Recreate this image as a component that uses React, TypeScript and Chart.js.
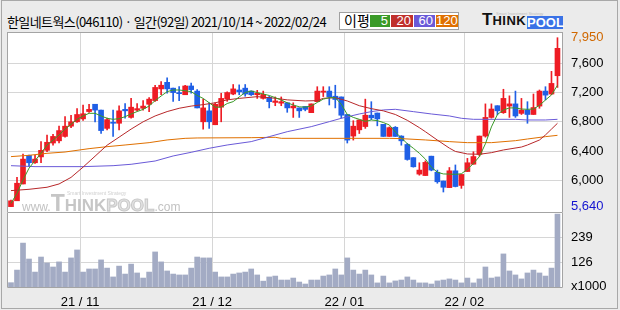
import React, { useEffect, useRef } from 'react';
import { Chart, registerables } from 'chart.js';

Chart.register(...registerables);

const titleText = '한일네트웍스(046110) · 일간(92일) 2021/10/14 ~ 2022/02/24';
const legendItems = ['5', '20', '60', '120'];

// month start indices (trading-day index of first session of month)
const monthStarts = [12, 34, 56, 76];
const monthLabels = ['21 / 11', '21 / 12', '22 / 01', '22 / 02'];

const opens = [5640,5720,5950,6340,6240,6320,6410,6510,6540,6600, 6740,6800,6840,6940,7040,6960,6710,6790,6780,6970, 6860,6960,6985,7040,7090,7250,7340,7260,7190,7170, 7290,7220,6800,6950,6760,7000,7110,7180,7235,7260, 7220,7170,7120,7135,7065,7055,7060,6990,6990,7010, 6925,7075,7205,7220,7150,7140,6900,6605,6690,6735, 6890,6920,6765,6600,6725,6605,6490,6310,6085,6065, 6330,6110,5990,5900,6130,5930,6120,6220,6355,6605, 6860,7020,6925,7015,7045,6915,6960,6900,7015,7220, 7180,7430];
const highs = [5730,6040,6360,6345,6340,6530,6620,6630,6740,6870, 6890,6980,7030,7040,7040,6960,6850,6960,7020,7050, 7120,7050,7090,7130,7300,7350,7400,7260,7280,7300, 7330,7240,7110,7060,7060,7190,7210,7310,7305,7310, 7220,7230,7220,7150,7140,7140,7060,7060,6990,7010, 7045,7280,7280,7280,7300,7140,6900,6815,6825,7110, 7075,6920,6765,6730,6735,6610,6505,6310,6240,6265, 6330,6140,5990,6175,6210,6080,6300,6390,6605,7045, 7045,7020,7245,7155,7220,7120,7075,7180,7235,7280, 7490,7950];
const lows = [5640,5720,5950,6190,6230,6240,6390,6480,6510,6590, 6720,6790,6820,6930,6800,6640,6690,6600,6690,6850, 6850,6950,6960,6940,7080,7170,7190,7080,7090,7170, 7190,6990,6700,6710,6760,6800,7080,7170,7170,7150, 7160,7120,7110,6990,7020,7020,6930,6860,6860,6950, 6925,7075,7145,7030,6990,6850,6510,6550,6640,6710, 6830,6745,6600,6600,6600,6480,6275,6180,6070,6065, 6130,5960,5840,5900,5910,5890,6120,6220,6330,6590, 6850,6895,6915,6860,6860,6900,6780,6900,6985,7100, 7170,7270];
const closes = [5720,5960,6290,6240,6290,6410,6520,6600,6680,6740, 6800,6900,6910,6970,6960,6680,6830,6780,6950,6950, 7000,6980,7015,7110,7270,7300,7250,7200,7185,7290, 7240,6990,6990,6800,7040,7120,7200,7250,7210,7180, 7170,7190,7175,7075,7085,7075,6990,7015,6950,6970, 7045,7220,7220,7140,7105,6890,6550,6740,6825,6890, 6855,6840,6600,6720,6600,6540,6285,6185,6140,6245, 6140,5980,5905,6130,5915,6080,6240,6325,6605,6860, 6975,6950,7120,7045,6880,6960,6900,6995,7220,7165, 7325,7805];
const volumes = [34,91,213,141,82,150,123,105,128,82, 146,182,82,96,96,137,100,60,109,73, 118,78,55,82,173,128,87,73,69,69, 100,150,146,146,82,60,60,73,78,82, 96,69,41,60,64,46,46,55,37,28, 46,46,64,69,96,69,146,91,73,91, 69,33,64,33,42,46,60,46,33,33, 28,42,46,51,46,33,55,33,51,105, 55,60,164,87,69,51,78,91,78,64, 100,344];

// moving averages: [index, value]
const ma5: number[][] = [[0,5685],[1,5822],[2,6005],[3,6165],[4,6270],[5,6370],[6,6483],[7,6550],[8,6620],[9,6700],[10,6766],[11,6834],[12,6880],[13,6916],[14,6916],[15,6880],[16,6848],[17,6834],[18,6843],[19,6870],[20,6907],[21,6940],[22,6970],[23,7016],[24,7090],[25,7153],[26,7212],[27,7235],[28,7235],[29,7225],[30,7212],[31,7160],[32,7120],[33,7060],[34,7000],[35,7000],[36,7050],[37,7076],[38,7140],[39,7200],[40,7222],[41,7200],[42,7180],[43,7160],[44,7130],[45,7098],[46,7060],[47,7030],[48,7005],[49,7000],[50,7016],[51,7065],[52,7110],[53,7130],[54,7130],[55,7040],[56,6900],[57,6860],[58,6834],[59,6805],[60,6825],[61,6816],[62,6790],[63,6757],[64,6660],[65,6580],[66,6500],[67,6438],[68,6370],[69,6290],[70,6180],[71,6110],[72,6087],[73,6085],[74,6082],[75,6090],[76,6150],[77,6230],[78,6324],[79,6500],[80,6730],[81,6900],[82,6962],[83,6990],[84,6990],[85,6975],[86,6971],[87,6975],[88,7025],[89,7098],[90,7167],[91,7300]];
const ma20: number[][] = [[0,5859],[3,5877],[6,5905],[8,5950],[10,6040],[12,6180],[14,6330],[16,6480],[18,6590],[20,6700],[22,6800],[24,6880],[26,6940],[28,6985],[30,7015],[32,7035],[34,7060],[36,7100],[38,7120],[41,7144],[44,7122],[46,7100],[49,7085],[51,7090],[52,7121],[54,7130],[56,7085],[58,7020],[60,6980],[62,6950],[64,6900],[66,6820],[68,6720],[69,6665],[71,6550],[73,6440],[74,6395],[76,6360],[78,6356],[80,6378],[82,6415],[85,6455],[86,6483],[88,6551],[89,6620],[90,6700],[91,6780]];
const ma60: number[][] = [[0,6200],[4,6187],[12,6187],[17,6200],[20,6219],[24,6264],[27,6333],[30,6383],[33,6438],[36,6483],[40,6529],[43,6597],[46,6665],[50,6734],[53,6802],[55,6848],[58,6907],[60,6939],[62,6962],[64,6971],[67,6939],[70,6907],[73,6880],[75,6848],[77,6834],[84,6834],[86,6825],[89,6825],[91,6834]];
const ma120: number[][] = [[0,6324],[3,6342],[6,6369],[9,6387],[13,6433],[16,6460],[19,6483],[23,6515],[26,6552],[29,6574],[31,6579],[40,6583],[44,6588],[45,6574],[63,6574],[65,6570],[69,6552],[73,6529],[76,6515],[80,6515],[84,6542],[86,6565],[89,6597],[91,6615]];

const priceTicks = [6000, 6400, 6800, 7200, 7600];
const priceHighLabel = 7950;
const priceLowLabel = 5640;
const volumeTicks = [126, 239];

const RED = '#ee1c24';
const BLUE = '#1f5fe6';
const C_MA5 = '#3a9a28';
const C_MA20 = '#b8282a';
const C_MA60 = '#6a5ad8';
const C_MA120 = '#e07000';
const LEGEND_COLORS = [C_MA5, '#c0302c', '#6a5ad8', '#e07000'];
const GRID = '#d6d6d6';
const FRAME = '#a4a4a4';
const TICK_FONT = { family: "'Liberation Sans Narrow', 'Liberation Sans', sans-serif", size: 13 };

const X_MIN = -0.666;
const X_MAX = 91.92;

function framePlugin(sides: { top: boolean }) {
  return {
    id: 'frame',
    beforeDraw(chart: any) {
      const { ctx, chartArea: a } = chart;
      ctx.save();
      ctx.fillStyle = '#ffffff';
      ctx.fillRect(a.left, a.top, a.right - a.left, a.bottom - a.top);
      ctx.restore();
    },
    afterDraw(chart: any) {
      const { ctx, chartArea: a } = chart;
      ctx.save();
      ctx.strokeStyle = FRAME;
      ctx.lineWidth = 1;
      ctx.beginPath();
      const l = a.left + 0.5, r = a.right - 0.5, t = a.top + 0.5, b = a.bottom - 0.5;
      if (sides.top) { ctx.moveTo(l, t); ctx.lineTo(r, t); }
      ctx.moveTo(l, a.top); ctx.lineTo(l, b);
      ctx.lineTo(r, b);
      ctx.lineTo(r, a.top);
      ctx.stroke();
      ctx.restore();
    },
  };
}

const watermarkPlugin = {
  id: 'wm',
  beforeDatasetsDraw(chart: any) {
    const { ctx, chartArea: a } = chart;
    ctx.save();
    const base = a.bottom - 2;
    let x = a.left + 15;
    ctx.textBaseline = 'alphabetic';
    ctx.fillStyle = '#c2c2c2';
    ctx.font = '12px "Liberation Sans"';
    ctx.fillText('www.', x, base);
    x += ctx.measureText('www.').width;
    ctx.fillStyle = '#c6c6c6';
    ctx.font = 'bold 23px "Liberation Sans"';
    ctx.fillText('T', x, base);
    x += ctx.measureText('T').width;
    ctx.font = 'bold 17px "Liberation Sans"';
    ctx.fillText('HINK', x, base);
    x += ctx.measureText('HINK').width;
    ctx.font = 'bold 17px "Liberation Sans"';
    ctx.fillStyle = '#e2e2e2';
    ctx.strokeStyle = '#c8c8c8';
    ctx.lineWidth = 1;
    ctx.fillText('POOL', x, base);
    ctx.strokeText('POOL', x, base);
    x += ctx.measureText('POOL').width;
    ctx.fillStyle = '#c2c2c2';
    ctx.font = '12px "Liberation Sans"';
    ctx.fillText('.com', x, base);
    ctx.fillStyle = '#d0d0d0';
    ctx.font = '5px "Liberation Sans"';
    ctx.fillText('Smart Investment Strategy', a.left + 60, base - 16);
    ctx.restore();
  },
};

function xScale(showLabels: boolean) {
  return {
    type: 'linear',
    min: X_MIN,
    max: X_MAX,
    offset: false,
    bounds: 'data',
    grid: { color: GRID, drawTicks: false, offset: false },
    border: { display: false },
    afterBuildTicks: (s: any) => {
      s.ticks = monthStarts.map((m) => ({ value: m - 0.5 }));
    },
    afterFit: (s: any) => {
      s.height = showLabels ? 21 : 0;
      s.paddingLeft = 0;
      s.paddingRight = 0;
    },
    ticks: {
      display: showLabels,
      autoSkip: false,
      maxRotation: 0,
      padding: 7,
      color: '#000',
      font: TICK_FONT,
      callback: (_v: any, i: number) => monthLabels[i],
    },
  };
}

export default function App() {
  const priceRef = useRef<HTMLCanvasElement>(null);
  const volRef = useRef<HTMLCanvasElement>(null);

  useEffect(() => {
    const idx = opens.map((_, i) => i);
    const colors = idx.map((i) => (closes[i] >= opens[i] ? RED : BLUE));
    const line = (data: number[][], color: string) => ({
      type: 'line',
      data: data.map(([x, y]) => ({ x, y })),
      borderColor: color,
      borderWidth: 1,
      pointRadius: 0,
      tension: 0,
      fill: false,
    });

    const priceChart = new Chart(priceRef.current as HTMLCanvasElement, {
      type: 'bar',
      data: {
        datasets: [
          line(ma5, C_MA5),
          line(ma20, C_MA20),
          line(ma60, C_MA60),
          line(ma120, C_MA120),
          {
            type: 'bar',
            data: idx.map((i) => ({ x: i, y: [opens[i], closes[i]] })),
            backgroundColor: colors,
            borderWidth: 0,
            barThickness: 5,
            minBarLength: 1,
            grouped: false,
          },
          {
            type: 'bar',
            data: idx.map((i) => ({ x: i, y: [lows[i], highs[i]] })),
            backgroundColor: colors,
            borderWidth: 0,
            barThickness: 1,
            grouped: false,
          },
        ] as any,
      },
      options: {
        animation: false,
        responsive: false,
        maintainAspectRatio: false,
        layout: { padding: { left: 7, top: 8, right: 0, bottom: 0 } },
        plugins: { legend: { display: false }, tooltip: { enabled: false } },
        scales: {
          x: xScale(false) as any,
          y: {
            type: 'linear',
            position: 'right',
            min: 5553,
            max: 8028,
            beginAtZero: false,
            bounds: 'data',
            border: { display: false },
            grid: {
              drawTicks: false,
              color: (c: any) =>
                c.tick && (c.tick.value === priceHighLabel || c.tick.value === priceLowLabel)
                  ? 'rgba(0,0,0,0)'
                  : GRID,
            },
            afterBuildTicks: (s: any) => {
              s.ticks = [priceLowLabel, ...priceTicks, priceHighLabel].map((v) => ({ value: v }));
            },
            afterFit: (s: any) => {
              s.width = 57;
              s.paddingTop = 0;
              s.paddingBottom = 0;
            },
            ticks: {
              autoSkip: false,
              padding: 8,
              font: TICK_FONT,
              color: (c: any) =>
                c.tick && c.tick.value === priceHighLabel
                  ? '#d06800'
                  : c.tick && c.tick.value === priceLowLabel
                  ? '#1414d0'
                  : '#000',
              callback: (v: any) => Number(v).toLocaleString('en-US'),
            },
          },
        },
      } as any,
      plugins: [framePlugin({ top: true }), watermarkPlugin],
    });

    const volChart = new Chart(volRef.current as HTMLCanvasElement, {
      type: 'bar',
      data: {
        datasets: [
          {
            data: idx.map((i) => ({ x: i, y: volumes[i] })),
            backgroundColor: '#a3abc4',
            borderWidth: 0,
            barThickness: 5,
            grouped: false,
          },
        ] as any,
      },
      options: {
        animation: false,
        responsive: false,
        maintainAspectRatio: false,
        layout: { padding: { left: 7, top: 0, right: 0, bottom: 0 } },
        plugins: { legend: { display: false }, tooltip: { enabled: false } },
        scales: {
          x: xScale(true) as any,
          y: {
            type: 'linear',
            position: 'right',
            min: 10,
            max: 349,
            beginAtZero: false,
            bounds: 'data',
            border: { display: false },
            grid: {
              drawTicks: false,
              color: (c: any) => (c.tick && c.tick.value === 19 ? 'rgba(0,0,0,0)' : GRID),
            },
            afterBuildTicks: (s: any) => {
              s.ticks = [19, ...volumeTicks].map((v) => ({ value: v }));
            },
            afterFit: (s: any) => {
              s.width = 57;
              s.paddingTop = 0;
              s.paddingBottom = 0;
            },
            ticks: {
              autoSkip: false,
              padding: 8,
              font: TICK_FONT,
              color: '#000',
              callback: (v: any) => (v === 19 ? 'x1000' : String(v)),
            },
          },
        },
      } as any,
      plugins: [framePlugin({ top: false })],
    });

    return () => {
      priceChart.destroy();
      volChart.destroy();
    };
  }, []);

  const legendBoxes = [
    { left: 370, width: 20 },
    { left: 391, width: 22 },
    { left: 414, width: 21 },
    { left: 436, width: 22 },
  ];

  return (
    <div
      style={{
        position: 'fixed',
        left: 0,
        top: 0,
        width: 620,
        height: 310,
        background: '#ebebeb',
        overflow: 'hidden',
      }}
    >
      <div
        style={{
          position: 'absolute',
          left: 1,
          top: 0,
          width: 617,
          height: 309,
          border: '1px solid #a8a8a8',
          boxSizing: 'border-box',
        }}
      />
      <div
        style={{
          position: 'absolute',
          left: 7,
          top: 13,
          fontFamily: "'Noto Sans CJK KR', sans-serif",
          fontSize: 13,
          lineHeight: '17px',
          letterSpacing: -0.6,
          whiteSpace: 'nowrap',
          color: '#000',
        }}
      >
        {titleText}
      </div>
      <div
        style={{
          position: 'absolute',
          left: 339,
          top: 12,
          width: 120,
          height: 18,
          border: '1px solid #a0a0a0',
          background: '#fff',
          boxSizing: 'border-box',
        }}
      />
      <div
        style={{
          position: 'absolute',
          left: 344,
          top: 12,
          fontFamily: "'Noto Sans CJK KR', sans-serif",
          fontSize: 14,
          lineHeight: '17px',
          color: '#000',
        }}
      >
        이평
      </div>
      {legendItems.map((t, i) => (
        <div
          key={t}
          style={{
            position: 'absolute',
            left: legendBoxes[i].left,
            top: 15,
            width: legendBoxes[i].width,
            height: 12,
            background: LEGEND_COLORS[i],
            color: '#fff',
            fontFamily: "'Liberation Sans', sans-serif",
            fontSize: 13,
            lineHeight: '12px',
            textAlign: 'right',
            paddingRight: 2,
            boxSizing: 'border-box',
          }}
        >
          {t}
        </div>
      ))}
      <div
        style={{
          position: 'absolute',
          left: 482,
          top: 11,
          fontFamily: "'Liberation Sans', sans-serif",
          fontWeight: 900,
          color: '#111',
          whiteSpace: 'nowrap',
          lineHeight: '18px',
        }}
      >
        <span style={{ fontSize: 17 }}>T</span>
        <span style={{ fontSize: 13, letterSpacing: 0.5 }}>HINK</span>
      </div>
      <div
        style={{
          position: 'absolute',
          left: 527,
          top: 16,
          width: 36,
          height: 13,
          background: '#3a72e6',
          color: '#fff',
          fontFamily: "'Liberation Sans', sans-serif",
          fontWeight: 900,
          fontSize: 13,
          lineHeight: '13px',
          textAlign: 'center',
        }}
      >
        POOL
      </div>
      <div
        style={{
          position: 'absolute',
          left: 496,
          top: 11,
          fontFamily: "'Liberation Sans', sans-serif",
          fontSize: 4,
          color: '#bbb',
          whiteSpace: 'nowrap',
        }}
      >
        Smart Investment Strategy
      </div>
      <canvas
        ref={priceRef}
        width={620}
        height={189}
        style={{ position: 'absolute', left: 0, top: 24, width: 620, height: 189 }}
      />
      <canvas
        ref={volRef}
        width={620}
        height={96}
        style={{ position: 'absolute', left: 0, top: 213, width: 620, height: 96 }}
      />
    </div>
  );
}
